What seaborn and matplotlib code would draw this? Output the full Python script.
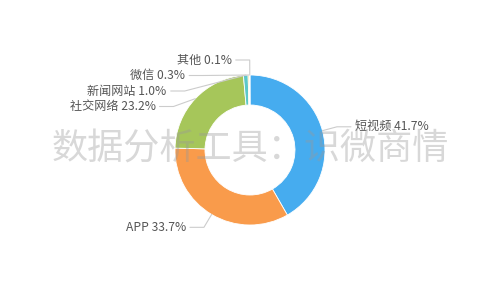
import numpy as np
import matplotlib
matplotlib.use("Agg")
import matplotlib.pyplot as plt
import seaborn as sns

categories = ["短视频", "APP", "社交网络", "新闻网站", "微信", "其他"]
values = [41.7, 33.7, 23.2, 1.0, 0.3, 0.1]
colors = ["#46acef", "#f99b4b", "#a6c65a", "#5cc8c9", "#f2d55b", "#e9a3b3"]
watermark = "数据分析工具：识微商情"

sns.set_theme(style="white")
plt.rcParams["font.family"] = ["Noto Sans CJK SC", "DejaVu Sans"]

W, H = 500, 300
fig = plt.figure(figsize=(5, 3), dpi=100)
ax = fig.add_axes([0, 0, 1, 1])
ax.set_xlim(0, W)
ax.set_ylim(0, H)
ax.set_aspect("equal")
ax.axis("off")

cx, cy, r, r_in = 250, 150, 75, 45
wedges, _ = ax.pie(values, colors=colors, startangle=90, counterclock=False,
                   radius=r, center=(cx, cy), frame=True,
                   wedgeprops=dict(width=r - r_in, edgecolor="white", linewidth=0.6))
ax.set_xlim(0, W)
ax.set_ylim(0, H)
ax.axis("off")

# label layout (echarts-like)
total = sum(values)
len1, len2, gap, R = 15, 14, 15.5, 88
cum = 0
items = []
for cat, v in zip(categories, values):
    mid = cum + v / 2
    cum += v
    theta = np.deg2rad(90 - mid / total * 360)
    ax_, ay_ = cx + r * np.cos(theta), cy + r * np.sin(theta)
    ex, ey = cx + (r + len1) * np.cos(theta), cy + (r + len1) * np.sin(theta)
    side = 1 if np.cos(theta) > 0.001 else -1
    items.append(dict(text=f"{cat} {v:.1f}%", anchor=(ax_, ay_), elbow=[ex, ey],
                      side=side, ly=ey))

for side in (1, -1):
    grp = [it for it in items if it["side"] == side and it["ly"] > cy]
    grp.sort(key=lambda it: -it["ly"])
    prev = None
    for it in grp:
        if prev is not None and it["ly"] > prev - gap:
            it["ly"] = prev - gap
            dy = it["ly"] - cy
            it["elbow"][0] = cx + side * np.sqrt(max(R ** 2 - dy ** 2, 0))
        prev = it["ly"]

for it in items:
    (axp, ayp), (ex, _), ly, s = it["anchor"], it["elbow"], it["ly"], it["side"]
    x3 = ex + s * len2
    ax.plot([axp, ex, x3], [ayp, ly, ly], color="#cccccc", lw=0.8, zorder=1)
    ax.text(x3 + s * 4, ly, it["text"], ha="left" if s > 0 else "right",
            va="center", fontsize=8.7, color="#555555", zorder=3)

fig.text(0.5, 0.5, watermark, ha="center", va="center", fontsize=26,
         color="#999999", alpha=0.38, zorder=10)

fig.savefig("out.png", dpi=100)
